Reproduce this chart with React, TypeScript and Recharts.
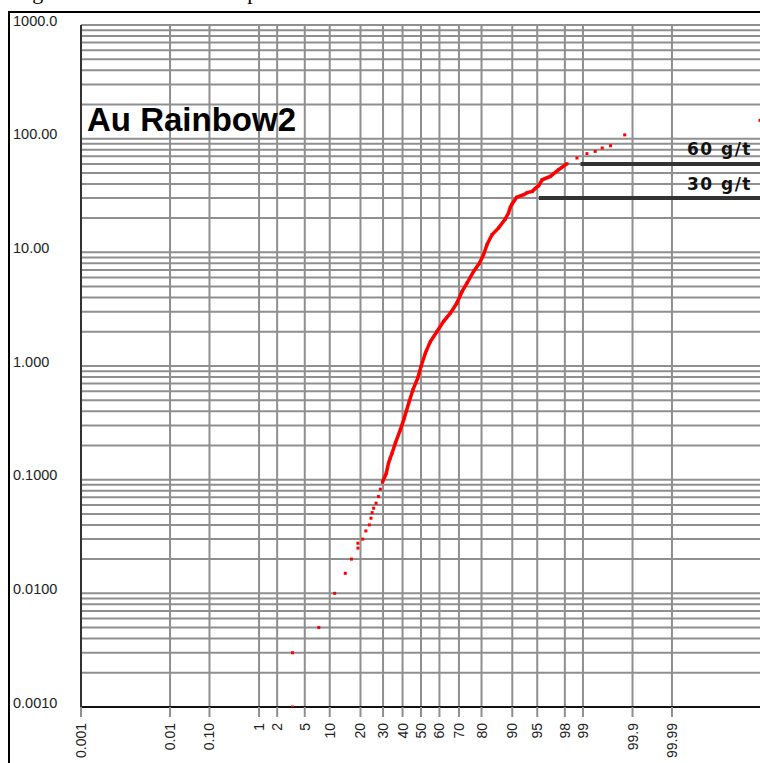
import React from 'react';
import { ScatterChart, Scatter, XAxis, YAxis, CartesianGrid, ReferenceLine, ReferenceDot } from 'recharts';

// ---- data (cumulative probability %, Au g/t) ----
const lowTailPct = [3.4, 3.4, 7.5, 11.3, 14.5, 16.6, 19.0, 19.0, 20.9, 22.2, 23.7, 24.4, 24.9, 25.6, 26.7, 27.8, 28.7];
const lowTailAu = [0.001, 0.003, 0.005, 0.01, 0.015, 0.02, 0.025, 0.0276, 0.03, 0.0354, 0.04, 0.0458, 0.0513, 0.0561, 0.0621, 0.071, 0.0825];

const bodyPct = [29.7, 31.6, 32.7, 33.6, 34.5, 36.2, 38.8, 40.9, 43.3, 45.6, 48.2, 50.0, 52.4, 55.1, 58.7, 62.2, 65.7, 69.0, 71.5, 73.8, 76.7, 79.2, 80.8, 82.1, 83.9, 86.1, 88.1, 89.0, 89.5, 89.9, 91.1, 92.6, 93.3, 94.2, 94.7, 95.2, 95.7, 96.7, 97.5, 98.15];
const bodyAu = [0.095, 0.114, 0.14, 0.155, 0.171, 0.21, 0.274, 0.348, 0.471, 0.617, 0.782, 0.99, 1.3, 1.64, 2.01, 2.47, 2.92, 3.58, 4.53, 5.37, 6.8, 8.05, 9.53, 11.7, 14.3, 16.4, 19.6, 22.2, 25.0, 26.5, 30.5, 32.1, 33.5, 34.4, 36.5, 38.5, 43.5, 46.6, 53.3, 60.2];

const highTailPct = [98.73, 99.15, 99.4, 99.56, 99.7, 99.85, 99.99999];
const highTailAu = [67.6, 73.8, 77.3, 82.8, 86.7, 108, 145];

const capAu = [60, 30];
const capLabels = ['60 g/t', '30 g/t'];
const capStartPct = [98.9, 95.25];

const xTickPercents = [0.001, 0.01, 0.1, 1, 2, 5, 10, 20, 30, 40, 50, 60, 70, 80, 90, 95, 98, 99, 99.9, 99.99];
const xTickLabels = ['0.001', '0.01', '0.10', '1', '2', '5', '10', '20', '30', '40', '50', '60', '70', '80', '90', '95', '98', '99', '99.9', '99.99'];

const yDecades = [0.001, 0.01, 0.1, 1, 10, 100, 1000];
const yDecadeLabels = ['0.0010', '0.0100', '0.1000', '1.000', '10.00', '100.00', '1000.0'];

const chartTitle = 'Au Rainbow2';
const caption = 'Figure 16: CPP Au and Cap Levels Rainbow2 Zone';

// ---- probability scale ----
function probit(p: number): number {
  const a = [-3.969683028665376e1, 2.209460984245205e2, -2.759285104469687e2, 1.38357751867269e2, -3.066479806614716e1, 2.506628277459239];
  const b = [-5.447609879822406e1, 1.615858368580409e2, -1.556989798598866e2, 6.680131188771972e1, -1.328068155288572e1];
  const c = [-7.784894002430293e-3, -3.223964580411365e-1, -2.400758277161838, -2.549732539343734, 4.374664141464968, 2.938163982698783];
  const d = [7.784695709041462e-3, 3.224671290700398e-1, 2.445134137142996, 3.754408661907416];
  const pl = 0.02425;
  if (p < pl) {
    const q = Math.sqrt(-2 * Math.log(p));
    return (((((c[0] * q + c[1]) * q + c[2]) * q + c[3]) * q + c[4]) * q + c[5]) / ((((d[0] * q + d[1]) * q + d[2]) * q + d[3]) * q + 1);
  }
  if (p > 1 - pl) {
    const q = Math.sqrt(-2 * Math.log(1 - p));
    return -(((((c[0] * q + c[1]) * q + c[2]) * q + c[3]) * q + c[4]) * q + c[5]) / ((((d[0] * q + d[1]) * q + d[2]) * q + d[3]) * q + 1);
  }
  const q = p - 0.5;
  const r = q * q;
  return ((((((a[0] * r + a[1]) * r + a[2]) * r + a[3]) * r + a[4]) * r + a[5]) * q) / (((((b[0] * r + b[1]) * r + b[2]) * r + b[3]) * r + b[4]) * r + 1);
}
const TAIL_K = 0.021;
const probScale = (pct: number) => {
  const z = probit(pct / 100);
  return z * (1 - TAIL_K * Math.abs(z));
};
const X_DOMAIN: [number, number] = [-4.645, 4.645];
const Y_DOMAIN: [number, number] = [0.001, 1000];

const toPoints = (pcts: number[], vals: number[]) => pcts.map((p, i) => ({ x: probScale(p), y: vals[i] }));
const lowTail = toPoints(lowTailPct, lowTailAu);
const body = toPoints(bodyPct, bodyAu);
const highTail = toPoints(highTailPct, highTailAu);

const xTicks = xTickPercents.map((p, i) => (i === 0 ? X_DOMAIN[0] : probScale(p)));
const yTicks: number[] = [];
for (let e = -3; e <= 2; e++) {
  for (let k = 1; k <= 9; k++) yTicks.push(Number((k * Math.pow(10, e)).toPrecision(3)));
}
yTicks.push(1000);

const FONT = 'Liberation Sans, Arial, Helvetica, sans-serif';
const GRID = '#8f8f8f';

const XTick = (props: any) => {
  const { x, y, index } = props;
  return (
    <text transform={`translate(${x},${y + 4}) rotate(-90)`} textAnchor="end" dominantBaseline="central" fontSize={14} fontFamily={FONT} fill="#222">
      {xTickLabels[index]}
    </text>
  );
};

const YTick = (props: any) => {
  const { y, payload } = props;
  const i = yDecades.findIndex((v) => Math.abs(v - payload.value) < v * 1e-6);
  if (i < 0) return <g />;
  return (
    <text x={13} y={y - 4.5} textAnchor="start" dominantBaseline="central" fontSize={14.5} fontFamily={FONT} fill="#222">
      {yDecadeLabels[i]}
    </text>
  );
};

const Dot = (props: any) => {
  const { cx, cy } = props;
  if (cx == null || cy == null) return <g />;
  return <rect x={cx - 1.5} y={cy - 1.5} width={3} height={3} fill="#ff0000" />;
};

const capLabel = (text: string) => (props: any) => {
  const vb = props.viewBox || {};
  const x = (vb.x ?? 0) + (vb.width ?? 0) / 2;
  const y = (vb.y ?? 0) + (vb.height ?? 0) / 2;
  return (
    <text x={x - 9} y={y - 8.5} textAnchor="end" fontSize={17} fontWeight="bold" letterSpacing={1.5} fontFamily="DejaVu Sans, Verdana, sans-serif" fill="#111">
      {text}
    </text>
  );
};

export default function App() {
  return (
    <div style={{ position: 'fixed', left: 0, top: 0, width: 760, height: 763, overflow: 'hidden', background: '#fff' }}>
      <div style={{ position: 'absolute', left: 14, top: -19, fontFamily: 'Liberation Serif, Times New Roman, serif', fontSize: 22, whiteSpace: 'nowrap', color: '#000', lineHeight: '22px' }}>
        {caption}
      </div>
      <div style={{ position: 'absolute', left: 8, top: 11, width: 820, height: 820, borderLeft: '2px solid #000', borderTop: '2px solid #000' }} />
      <div style={{ position: 'absolute', left: 0, top: 0 }}>
        <ScatterChart width={780} height={763} margin={{ top: 25, right: 19, bottom: 0, left: 8 }}>
          <CartesianGrid stroke={GRID} strokeWidth={2} />
          <XAxis
            type="number"
            dataKey="x"
            domain={X_DOMAIN}
            ticks={xTicks}
            interval={0}
            allowDataOverflow
            height={56}
            tickSize={10}
            tickLine={{ stroke: GRID, strokeWidth: 2 }}
            axisLine={{ stroke: '#111', strokeWidth: 2 }}
            tick={<XTick />}
          />
          <YAxis
            type="number"
            dataKey="y"
            scale="log"
            domain={Y_DOMAIN}
            ticks={yTicks}
            interval={0}
            allowDataOverflow
            width={73}
            tickLine={false}
            axisLine={{ stroke: '#333', strokeWidth: 2 }}
            tick={<YTick />}
          />
          <Scatter data={body} isAnimationActive={false} line={{ stroke: '#ff0000', strokeWidth: 3.5 }} lineType="joint" shape={<Dot />} />
          <Scatter data={lowTail} isAnimationActive={false} shape={<Dot />} />
          <Scatter data={highTail} isAnimationActive={false} shape={<Dot />} />
          {capAu.map((v, i) => (
            <ReferenceLine
              key={'cap' + i}
              segment={[
                { x: probScale(capStartPct[i]), y: v },
                { x: X_DOMAIN[1], y: v },
              ]}
              stroke="#333"
              strokeWidth={4}
            />
          ))}
          {capAu.map((v, i) => (
            <ReferenceDot key={'capl' + i} x={X_DOMAIN[1]} y={v} r={1} fill="none" stroke="none" label={capLabel(capLabels[i])} />
          ))}
        </ScatterChart>
      </div>
      <div style={{ position: 'absolute', left: 87, top: 100, fontFamily: FONT, fontWeight: 'bold', fontSize: 33, lineHeight: '40px', color: '#000', whiteSpace: 'nowrap' }}>
        {chartTitle}
      </div>
    </div>
  );
}
